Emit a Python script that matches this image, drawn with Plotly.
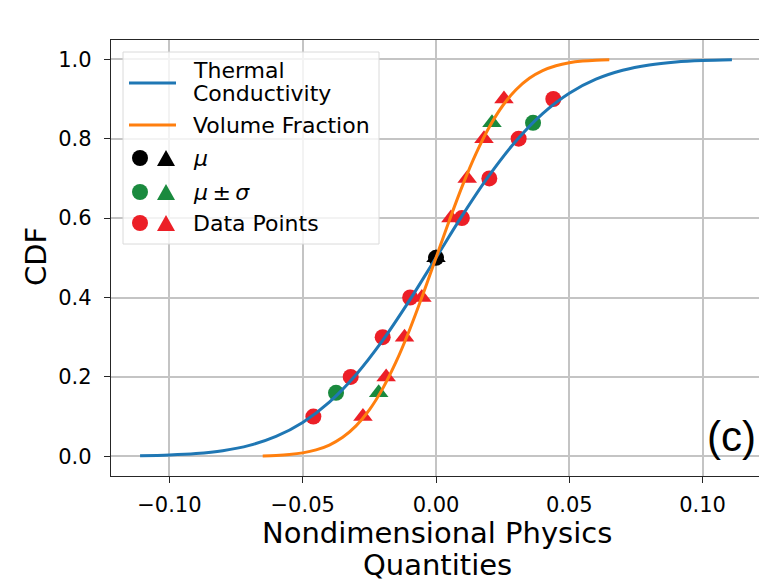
import plotly.graph_objects as go

# ---- data ----
tc_curve_x = [-0.111, -0.10, -0.09, -0.08, -0.07, -0.06, -0.05, -0.04, -0.03, -0.02, -0.01, 0.0,
              0.01, 0.02, 0.03, 0.04, 0.05, 0.06, 0.07, 0.08, 0.09, 0.10, 0.111]
tc_curve_y = [0.0012, 0.0031, 0.0068, 0.0142, 0.0276, 0.0501, 0.0853, 0.1366, 0.2056, 0.2919, 0.3920, 0.5,
              0.6080, 0.7081, 0.7944, 0.8634, 0.9147, 0.9499, 0.9724, 0.9858, 0.9932, 0.9969, 0.9988]

vf_curve_x = [-0.065, -0.060, -0.055, -0.050, -0.045, -0.040, -0.035, -0.030, -0.025, -0.020, -0.015, -0.010, -0.005, 0.0,
              0.005, 0.010, 0.015, 0.020, 0.025, 0.030, 0.035, 0.040, 0.045, 0.050, 0.055, 0.060, 0.065]
vf_curve_y = [0.0010, 0.0021, 0.0044, 0.0086, 0.0161, 0.0284, 0.0478, 0.0766, 0.1170, 0.1705, 0.2376, 0.3170, 0.4059, 0.5,
              0.5941, 0.6830, 0.7624, 0.8295, 0.8830, 0.9234, 0.9522, 0.9716, 0.9839, 0.9914, 0.9956, 0.9979, 0.9990]

tc_data_x = [-0.046, -0.032, -0.020, -0.0097, 0.0097, 0.020, 0.031, 0.044]
tc_data_y = [0.1, 0.2, 0.3, 0.4, 0.6, 0.7, 0.8, 0.9]
vf_data_x = [-0.0274, -0.0187, -0.0118, -0.0053, 0.0056, 0.0117, 0.018, 0.0255]
vf_data_y = [0.1, 0.2, 0.3, 0.4, 0.6, 0.7, 0.8, 0.9]

tc_sigma_x = [-0.0375, 0.0364]
tc_sigma_y = [0.16, 0.84]
vf_sigma_x = [-0.0215, 0.021]
vf_sigma_y = [0.16, 0.84]

mean_x = [0.0]
mean_y = [0.5]

x_ticks = [-0.10, -0.05, 0.00, 0.05, 0.10]
y_ticks = [0.0, 0.2, 0.4, 0.6, 0.8, 1.0]

# ---- style ----
BLUE = "#1f77b4"
ORANGE = "#ff7f0e"
GREEN = "#1a8a3e"
RED = "#ec1f27"
BLACK = "#000000"
FONT = "DejaVu Sans"

W_PX, H_PX = 759, 583
L, R, T, B = 111, 759, 40, 476


def px(x):
    return (x - L) / (R - L)


def py(y):
    return (B - y) / (B - T)


fig = go.Figure()

MS_C = 16
MS_T = 17

def add_markers(xs, ys, sym, color, size):
    fig.add_trace(go.Scatter(x=xs, y=ys, mode="markers",
                             marker=dict(symbol=sym, color=color, size=size, line=dict(width=0)),
                             showlegend=False, hoverinfo="skip"))

add_markers(tc_data_x, tc_data_y, "circle", RED, MS_C)
add_markers(vf_data_x, vf_data_y, "triangle-up", RED, MS_T)
add_markers(tc_sigma_x, tc_sigma_y, "circle", GREEN, MS_C)
add_markers(vf_sigma_x, vf_sigma_y, "triangle-up", GREEN, MS_T)
add_markers(mean_x, mean_y, "circle", BLACK, MS_C)
add_markers(mean_x, mean_y, "triangle-up", BLACK, MS_T)

fig.add_trace(go.Scatter(x=tc_curve_x, y=tc_curve_y, mode="lines",
                         line=dict(color=BLUE, width=3, shape="spline", smoothing=1.0),
                         showlegend=False, hoverinfo="skip"))
fig.add_trace(go.Scatter(x=vf_curve_x, y=vf_curve_y, mode="lines",
                         line=dict(color=ORANGE, width=3, shape="spline", smoothing=1.0),
                         showlegend=False, hoverinfo="skip"))

# axis ranges derived from pixel layout
x_per_px = 0.05 / 133.3
x0 = 0.0 - (436 - L) * x_per_px
x1 = 0.0 + (R - 436) * x_per_px

fig.update_xaxes(range=[x0, x1], tickvals=x_ticks, tickformat=".2f", automargin=False,
                 showgrid=True, gridcolor="#c4c4c4", gridwidth=1.5, zeroline=False,
                 showline=True, linecolor="#262626", linewidth=1.3, mirror=True,
                 ticks="outside", ticklen=6, tickwidth=1.3, tickcolor="#262626",
                 tickfont=dict(family=FONT, size=21, color="black"), ticklabelstandoff=4)
fig.update_yaxes(range=[-0.0496, 1.0486], tickvals=y_ticks, tickformat=".1f", automargin=False,
                 showgrid=True, gridcolor="#c4c4c4", gridwidth=1.5, zeroline=False,
                 showline=True, linecolor="#262626", linewidth=1.3, mirror=False,
                 ticks="outside", ticklen=6, tickwidth=1.3, tickcolor="#262626",
                 tickfont=dict(family=FONT, size=21, color="black"), ticklabelstandoff=8)

shapes = []
annotations = []

# legend box
shapes.append(dict(type="rect", xref="paper", yref="paper",
                   x0=px(123), x1=px(379), y0=py(244), y1=py(52),
                   fillcolor="rgba(255,255,255,0.8)", line=dict(color="#dadada", width=1),
                   layer="above"))
# legend lines
for yy, col in [(83, BLUE), (125, ORANGE)]:
    shapes.append(dict(type="line", xref="paper", yref="paper",
                       x0=px(129), x1=px(176), y0=py(yy), y1=py(yy),
                       line=dict(color=col, width=3), layer="above"))
# legend markers
for yy, col in [(158, BLACK), (192, GREEN), (223, RED)]:
    shapes.append(dict(type="circle", xref="paper", yref="paper",
                       xsizemode="pixel", ysizemode="pixel",
                       xanchor=px(140), yanchor=py(yy),
                       x0=-8, x1=8, y0=-8, y1=8,
                       fillcolor=col, line=dict(width=0), layer="above"))
    shapes.append(dict(type="path", xref="paper", yref="paper",
                       xsizemode="pixel", ysizemode="pixel",
                       xanchor=px(166), yanchor=py(yy),
                       path="M -9,-8 L 9,-8 L 0,8 Z",
                       fillcolor=col, line=dict(width=0), layer="above"))

leg_font = dict(family=FONT, size=22, color="black")
for text, yy in [("Thermal", 70), ("Conductivity", 93), ("Volume Fraction", 125),
                 ("<i>μ</i>", 158), ("<i>μ</i>\u2009±\u2009<i>σ</i>", 192), ("Data Points", 223)]:
    annotations.append(dict(text=text, xref="paper", yref="paper", x=px(191), y=py(yy),
                            xanchor="left", yanchor="middle", showarrow=False, font=leg_font))

# axis titles
title_font = dict(family=FONT, size=29, color="black")
annotations.append(dict(text="Nondimensional Physics", xref="paper", yref="paper",
                        x=px(437), y=py(533), xanchor="center", yanchor="middle",
                        showarrow=False, font=title_font))
annotations.append(dict(text="Quantities", xref="paper", yref="paper",
                        x=px(437), y=py(565), xanchor="center", yanchor="middle",
                        showarrow=False, font=title_font))
annotations.append(dict(text="CDF", xref="paper", yref="paper",
                        x=px(36), y=py(257), xanchor="center", yanchor="middle",
                        textangle=-90, showarrow=False, font=title_font))
# panel label
annotations.append(dict(text="(c)", xref="paper", yref="paper",
                        x=px(731), y=py(436), xanchor="center", yanchor="middle",
                        showarrow=False, font=dict(family="Liberation Sans", size=42, color="black")))

fig.update_layout(width=W_PX, height=H_PX,
                  margin=dict(l=L, r=W_PX - R, t=T, b=H_PX - B, pad=0, autoexpand=False),
                  paper_bgcolor="white", plot_bgcolor="white",
                  shapes=shapes, annotations=annotations, showlegend=False)

fig.write_html("out.html", config={"displayModeBar": False},
               post_script="document.body.style.margin='0';document.body.style.padding='0';document.body.style.overflow='hidden';")
